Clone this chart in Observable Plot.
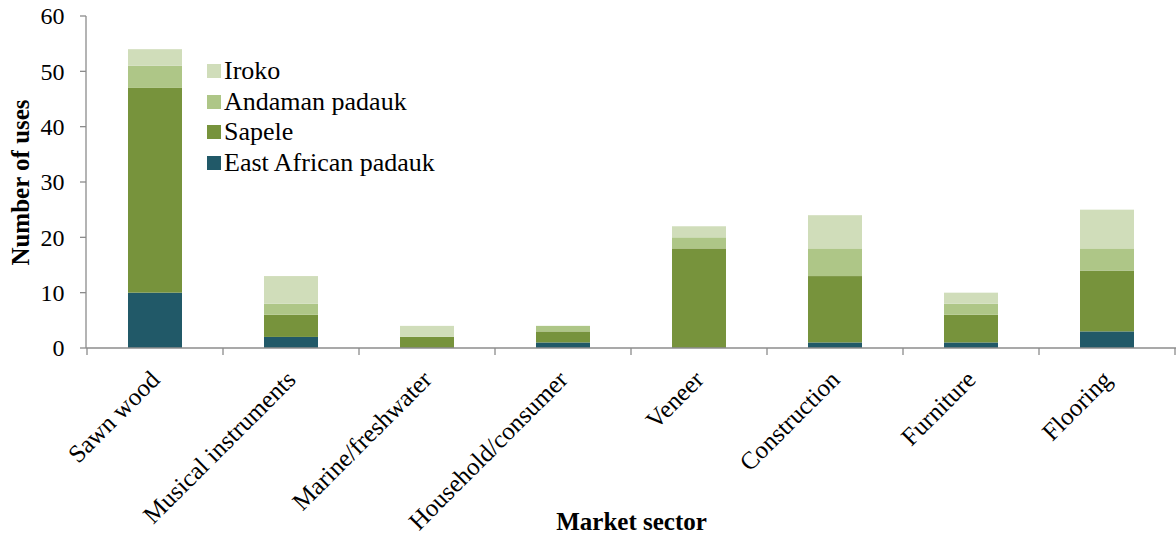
<!DOCTYPE html>
<html>
<head>
<meta charset="utf-8">
<script src="https://cdn.jsdelivr.net/npm/d3@7"></script>
<script src="https://cdn.jsdelivr.net/npm/@observablehq/plot@0.6"></script>
<style>
  html, body { margin: 0; padding: 0; background: #fff; }
  #wrap { position: relative; width: 1176px; height: 540px; font-family: "Liberation Serif", "Times New Roman", serif; }
  #legend { position: absolute; left: 207px; top: 56px; font-size: 26px; line-height: 30.6px; color: #000; }
  #legend .row { display: flex; align-items: center; white-space: nowrap; }
  #legend .sw { width: 14px; height: 14px; margin-right: 3px; }
</style>
</head>
<body>
<div id="wrap"><div id="legend"></div></div>
<script>
const categories = ["Sawn wood", "Musical instruments", "Marine/freshwater", "Household/consumer", "Veneer", "Construction", "Furniture", "Flooring"];
const species = ["East African padauk", "Sapele", "Andaman padauk", "Iroko"];
const eastAfricanPadauk = [10, 2, 0, 1, 0, 1, 1, 3];
const sapele = [37, 4, 2, 2, 18, 12, 5, 11];
const andamanPadauk = [4, 2, 0, 1, 2, 5, 2, 4];
const iroko = [3, 5, 2, 0, 2, 6, 2, 7];
const colors = ["#215968", "#77933C", "#AEC687", "#D0DDBA"];
const yTicks = [0, 10, 20, 30, 40, 50, 60];

const seriesValues = [eastAfricanPadauk, sapele, andamanPadauk, iroko];
const data = [];
categories.forEach((c, i) => {
  species.forEach((s, j) => data.push({sector: c, species: s, value: seriesValues[j][i]}));
});

const axisColor = "#8c8c8c";
function axisLines(index, scales, values, dimensions) {
  const x = scales.x, y = scales.y;
  const bw = typeof x.bandwidth === "function" ? x.bandwidth() : x.bandwidth;
  const step = x(categories[1]) - x(categories[0]);
  const g = d3.create("svg:g").attr("stroke", axisColor).attr("stroke-width", 1.3);
  const y0 = y(0), yTop = y(d3.max(yTicks));
  const xl = dimensions.marginLeft, xr = dimensions.width - dimensions.marginRight;
  g.append("line").attr("x1", xl).attr("x2", xl).attr("y1", yTop).attr("y2", y0);
  g.append("line").attr("x1", xl).attr("x2", xr).attr("y1", y0).attr("y2", y0);
  for (const t of yTicks) {
    g.append("line").attr("x1", xl - 6).attr("x2", xl).attr("y1", y(t)).attr("y2", y(t));
  }
  const bounds = categories.map(c => x(c) + bw / 2 - step / 2);
  bounds.push(x(categories[categories.length - 1]) + bw / 2 + step / 2);
  for (const b of bounds) {
    g.append("line").attr("x1", b).attr("x2", b).attr("y1", y0).attr("y2", y0 + 7);
  }
  return g.node();
}

const chart = Plot.plot({
  width: 1176,
  height: 540,
  marginLeft: 86,
  marginRight: 0,
  marginTop: 16,
  marginBottom: 192,
  style: {fontFamily: "'Liberation Serif', 'Times New Roman', serif", background: "white", overflow: "visible"},
  x: {domain: categories, paddingInner: 0.6, paddingOuter: 0.3, axis: null},
  y: {domain: [0, 60], axis: null},
  color: {domain: species, range: colors},
  marks: [
    Plot.barY(data, Plot.stackY({x: "sector", y: "value", fill: "species"})),
    axisLines,
    Plot.text(yTicks, {frameAnchor: "left", y: d => d, text: d => String(d), textAnchor: "end", dx: -22, fontSize: 24, fill: "black"}),
    Plot.text(categories, {x: d => d, frameAnchor: "bottom", text: d => d, rotate: -45, textAnchor: "end", lineAnchor: "middle", dx: 0, dy: 27, fontSize: 25, fill: "black"}),
    Plot.text(["Number of uses"], {frameAnchor: "left", text: d => d, rotate: -90, textAnchor: "middle", dx: -66, fontSize: 25, fontWeight: "bold", fill: "black"}),
    Plot.text(["Market sector"], {frameAnchor: "bottom", text: d => d, dy: 181, fontSize: 25, fontWeight: "bold", fill: "black"})
  ]
});
document.getElementById("wrap").prepend(chart);

const legend = document.getElementById("legend");
species.slice().reverse().forEach(s => {
  const row = document.createElement("div");
  row.className = "row";
  const sw = document.createElement("div");
  sw.className = "sw";
  sw.style.background = colors[species.indexOf(s)];
  const lab = document.createElement("span");
  lab.textContent = s;
  row.append(sw, lab);
  legend.append(row);
});
</script>
</body>
</html>
